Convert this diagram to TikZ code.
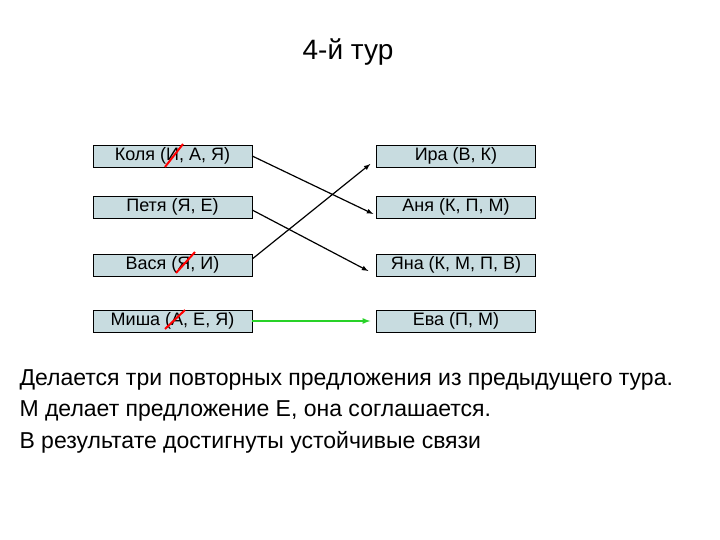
\documentclass[tikz,border=0pt]{standalone}
\usepackage{fontspec}
\setmainfont{Liberation Sans}
\begin{document}
\begin{tikzpicture}[x=1pt,y=-1pt,
  box/.style={draw=black,fill=boxfill,minimum width=159pt,minimum height=22pt,inner sep=0pt,font=\fontsize{18}{20}\selectfont},
  arr/.style={-latex,line width=1.2pt},
  cross/.style={draw=red,line width=2pt}]
\definecolor{boxfill}{RGB}{200,220,224}
\definecolor{grn}{RGB}{40,210,40}
\useasboundingbox (0,0) rectangle (720,540);
\node (title) at (348,52) {\fontsize{28}{30}\selectfont 4-й тур};
\node[box] (l1) at (172.5,156) {Коля (И, А, Я)};
\node[box] (l2) at (172.5,207) {Петя (Я, Е)};
\node[box] (l3) at (172.5,265) {Вася (Я, И)};
\node[box] (l4) at (172.5,321) {Миша (А, Е, Я)};
\node[box] (r1) at (456,156) {Ира (В, К)};
\node[box] (r2) at (456,207) {Аня (К, П, М)};
\node[box] (r3) at (456,265) {Яна (К, М, П, В)};
\node[box] (r4) at (456,321) {Ева (П, М)};
\draw[arr] (l1.east) -- ([xshift=-3pt,yshift=-7pt]r2.west);
\draw[arr] ([yshift=-3pt]l2.east) -- ([xshift=-8pt,yshift=-6pt]r3.west);
\draw[arr] ([yshift=6pt]l3.east) -- ([xshift=-6pt,yshift=-8pt]r1.west);
\draw[arr,grn,line width=1.6pt] (l4.east) -- ([xshift=-6pt]r4.west);
\coordinate (c1a) at (165,167); \coordinate (c1b) at (183,144);
\coordinate (c2a) at (176,273); \coordinate (c2b) at (195,252);
\coordinate (c3a) at (165,329); \coordinate (c3b) at (185,310);
\draw[cross] (c1a) -- (c1b);
\draw[cross] (c2a) -- (c2b);
\draw[cross] (c3a) -- (c3b);
\node[anchor=west,font=\fontsize{23}{25}\selectfont] (t1) at (16,380) {Делается три повторных предложения из предыдущего тура.};
\node[anchor=west,font=\fontsize{23}{25}\selectfont] (t2) at (16,411) {М делает предложение Е, она соглашается.};
\node[anchor=west,font=\fontsize{23}{25}\selectfont] (t3) at (16,442) {В результате достигнуты устойчивые связи};
\end{tikzpicture}
\end{document}
